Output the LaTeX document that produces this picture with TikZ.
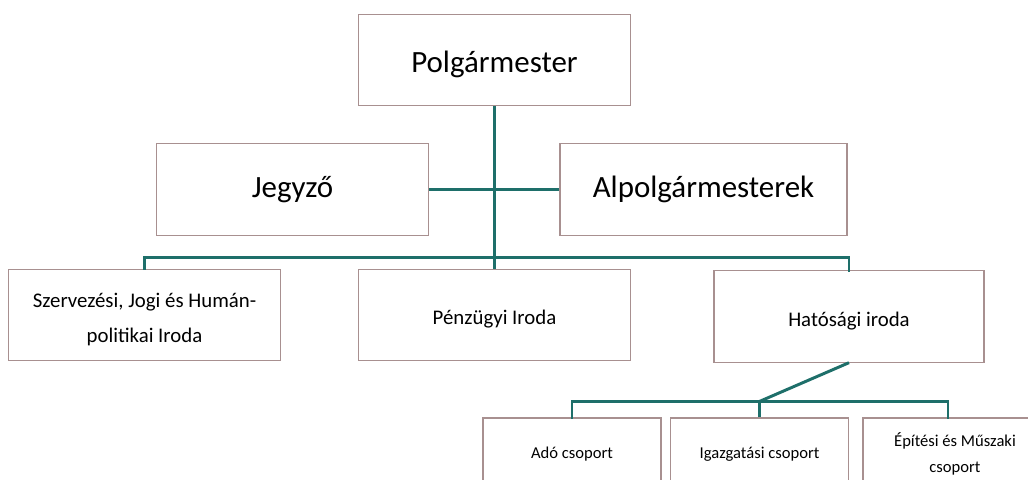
\documentclass[tikz,border=0pt]{standalone}
\usepackage{fontspec}
\setmainfont{Carlito}
\usepackage{tikz}
\usetikzlibrary{calc}
\usepackage{color}

\definecolor{kapocs}{HTML}{1E6F6A}
\definecolor{keret}{HTML}{A89090}
\newcommand{\lejjebb}[1]{\raisebox{-3pt}[\height][\depth]{#1}}

\begin{document}
\begin{tikzpicture}[x=0.025cm,y=-0.025cm,
  box/.style={draw=keret,line width=0.8pt,fill=white,align=center,inner sep=0pt},
  big/.style={box,minimum width=6.8cm,minimum height=2.28cm,font=\fontsize{22}{26}\selectfont},
  mid/.style={box,minimum width=6.8cm,minimum height=2.28cm,font=\fontsize{14.8}{25}\selectfont},
  small/.style={box,minimum width=4.45cm,minimum height=1.8cm,font=\fontsize{11.8}{18}\selectfont},
  kapocs/.style={draw=kapocs,line width=2.1pt}]
  \useasboundingbox (0,0) rectangle (1028,480);
  \clip (0,0) rectangle (1028,480);
  \fill[white] (0,0) rectangle (1028,480);
  % fonok
  \node [big] (polg) at (494.5,60) {\lejjebb{Polgármester}};
  \node [big] (jegyzo) at (292.5,189.5) {Jegyző};
  \node [big,minimum width=7.175cm] (alpolg) at (703.5,189.5) {Alpolgármesterek};
  % irodak
  \node [mid] (szerv) at (144.5,315) {\lejjebb{Szervezési, Jogi és Humán-}\\\lejjebb{politikai Iroda}};
  \node [mid] (penz) at (494.5,315) {\lejjebb{Pénzügyi Iroda}};
  \node [mid,minimum width=6.75cm] (hat) at (849,316.5) {\lejjebb{Hatósági iroda}};
  % csoportok
  \node [small] (ado) at (572,454) {Adó csoport};
  \node [small] (igaz) at (759.5,454) {Igazgatási csoport};
  \node [small,minimum width=4.6cm] (epit) at (955,454) {Építési és Műszaki\\csoport};
  \coordinate (elag) at ($(igaz.north)+(0,-16)$);
  \coordinate (epitfel) at ($(epit.north)+(-7,0)$);
  % vonalak
  \draw [kapocs] (polg.south) -- (penz.north);
  \draw [kapocs] (jegyzo.east) -- (alpolg.west);
  \draw [kapocs,line cap=rect] (szerv.north) -- ++(0,-11) -| (hat.north);
  \draw [kapocs] (hat.south) -- (elag);
  \draw [kapocs] (igaz.north) -- (elag);
  \draw [kapocs,line cap=rect] (ado.north) -- ++(0,-16) -| (epitfel);
\end{tikzpicture}
\end{document}
